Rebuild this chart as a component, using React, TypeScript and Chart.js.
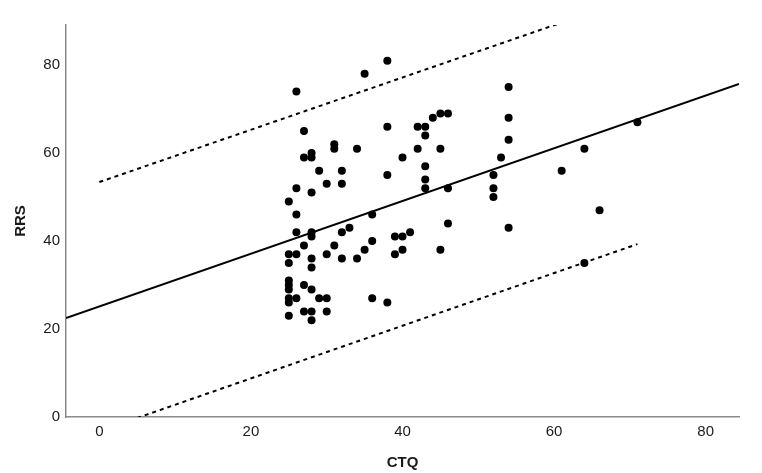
import React, { useEffect, useRef } from "react";
import { Chart, registerables } from "chart.js";

Chart.register(...registerables);

// Observed data (CTQ vs RRS)
const ctq: number[] = [
  25, 25, 25, 25, 25, 25, 25, 25, 25,
  26, 26, 26, 26, 26, 26,
  27, 27, 27, 27, 27,
  28, 28, 28, 28, 28, 28, 28, 28, 28, 28,
  29, 29,
  30, 30, 30, 30,
  31, 31, 31,
  32, 32, 32, 32,
  33,
  34, 34,
  35, 35,
  36, 36, 36,
  38, 38, 38, 38,
  39, 39,
  40, 40, 40,
  41,
  42, 42,
  43, 43, 43, 43, 43,
  44,
  45, 45, 45,
  46, 46, 46,
  52, 52, 52,
  53,
  54, 54, 54, 54,
  61,
  64, 64,
  66,
  71,
];
const rrs: number[] = [
  49, 37, 35, 31, 30, 29, 27, 26, 23,
  74, 52, 46, 42, 37, 27,
  65, 59, 39, 30, 24,
  60, 59, 51, 42, 41, 36, 34, 29, 24, 22,
  56, 27,
  53, 37, 27, 24,
  62, 61, 39,
  56, 53, 42, 36,
  43,
  61, 36,
  78, 38,
  46, 40, 27,
  81, 66, 55, 26,
  41, 37,
  59, 41, 38,
  42,
  66, 61,
  66, 64, 57, 54, 52,
  68,
  69, 61, 38,
  69, 52, 44,
  55, 52, 50,
  59,
  75, 68, 63, 43,
  56,
  61, 35,
  47,
  67,
];

// Fit line and 95% prediction interval (endpoints)
const fitX: number[] = [-4.4, 84.4];
const fitY: number[] = [22.5, 75.7];
const upperX: number[] = [0, 71];
const upperY: number[] = [53.4, 95.6];
const lowerX: number[] = [0, 71];
const lowerY: number[] = [-3.2, 39.3];

const xTicks: number[] = [0, 20, 40, 60, 80];
const yTicks: number[] = [0, 20, 40, 60, 80];

const xTitle = "CTQ";
const yTitle = "RRS";

const pairs = (xs: number[], ys: number[]) => xs.map((x, i) => ({ x, y: ys[i] }));

export default function App() {
  const ref = useRef<HTMLCanvasElement | null>(null);

  useEffect(() => {
    if (!ref.current) return;
    const font = { family: "'Liberation Sans', Arial, sans-serif", size: 15 };
    const chart = new Chart(ref.current, {
      type: "scatter",
      data: {
        datasets: [
          {
            label: "points",
            data: pairs(ctq, rrs),
            backgroundColor: "#000",
            borderColor: "#000",
            pointRadius: 4,
            pointBorderWidth: 0,
            order: 0,
          },
          {
            label: "fit",
            data: pairs(fitX, fitY),
            showLine: true,
            borderColor: "#000",
            borderWidth: 2,
            pointRadius: 0,
            order: 1,
          },
          {
            label: "upper",
            data: pairs(upperX, upperY),
            showLine: true,
            borderColor: "#000",
            borderWidth: 2,
            borderDash: [4, 4],
            pointRadius: 0,
            order: 1,
          },
          {
            label: "lower",
            data: pairs(lowerX, lowerY),
            showLine: true,
            borderColor: "#000",
            borderWidth: 2,
            borderDash: [4, 4],
            pointRadius: 0,
            order: 1,
          },
        ],
      },
      options: {
        animation: false,
        responsive: false,
        events: [],
        layout: { padding: { top: 25, right: 23, left: 0, bottom: 0 } },
        plugins: { legend: { display: false }, tooltip: { enabled: false } },
        scales: {
          x: {
            type: "linear",
            min: -4.4,
            max: 84.4,
            afterFit: (s: any) => {
              s.height = 56;
            },
            afterBuildTicks: (s: any) => {
              s.ticks = xTicks.map((v) => ({ value: v }));
            },
            grid: { display: false, drawTicks: false },
            border: { display: true, color: "#8a8a8a", width: 1.5 },
            ticks: { padding: 6, color: "#1a1a1a", font, maxRotation: 0 },
            title: {
              display: true,
              text: xTitle,
              color: "#1a1a1a",
              font: { ...font, weight: "bold" },
              padding: { top: 0, bottom: 1 },
            },
          },
          y: {
            type: "linear",
            min: 0,
            max: 89.1,
            afterFit: (s: any) => {
              s.width = 66;
            },
            afterBuildTicks: (s: any) => {
              s.ticks = yTicks.map((v) => ({ value: v }));
            },
            grid: { display: false, drawTicks: false },
            border: { display: true, color: "#8a8a8a", width: 1.5 },
            ticks: { padding: 6, color: "#1a1a1a", font },
            title: {
              display: true,
              text: yTitle,
              color: "#1a1a1a",
              font: { ...font, weight: "bold" },
              padding: { top: 12, bottom: 0 },
            },
          },
        },
      },
    });
    return () => chart.destroy();
  }, []);

  return (
    <div style={{ position: "fixed", left: 0, top: 0, width: 762, height: 473, background: "#fff" }}>
      <canvas ref={ref} width={762} height={473} style={{ display: "block", width: 762, height: 473 }} />
    </div>
  );
}
